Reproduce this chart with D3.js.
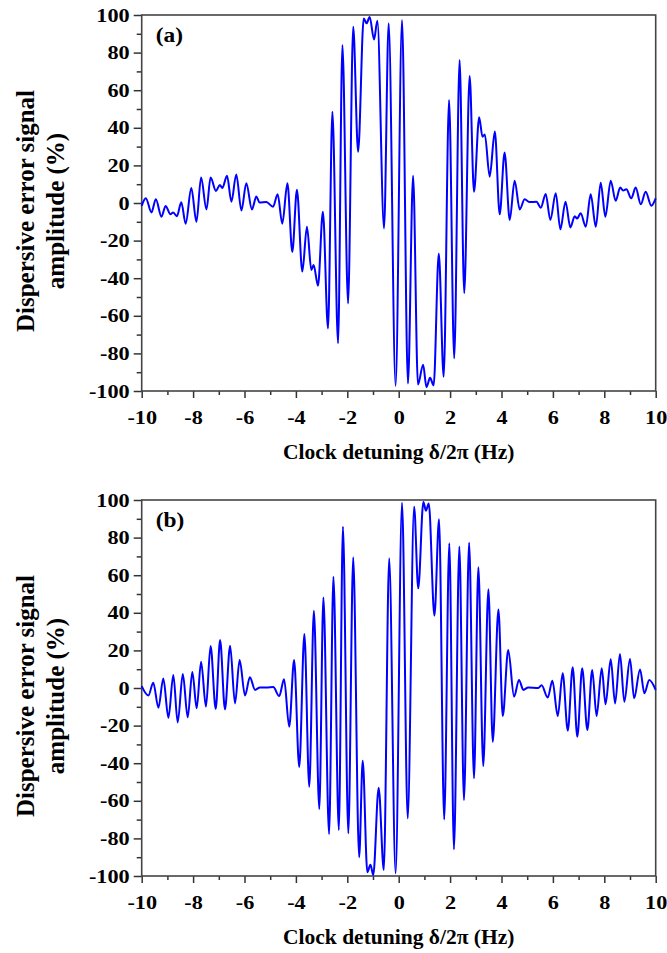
<!DOCTYPE html>
<html>
<head>
<meta charset="utf-8">
<script src="https://cdnjs.cloudflare.com/ajax/libs/d3/7.8.5/d3.min.js"></script>
<style>
  body { margin: 0; background: #fff; }
  text { font-family: "Liberation Serif", "Times New Roman", serif; font-weight: bold; fill: #000; }
</style>
</head>
<body>
<div id="svgcontainer"></div>
<script>
var detuningA = [-10, -9.84, -9.62, -9.45, -9.23, -9.07, -8.88, -8.78, -8.63, -8.46,
  -8.29, -8.07, -7.87, -7.69, -7.48, -7.32, -7.11, -6.96, -6.86, -6.68,
  -6.51, -6.32, -6.12, -5.93, -5.71, -5.54, -5.41, -5.15, -4.89, -4.71,
  -4.53, -4.33, -4.14, -3.96, -3.75, -3.57, -3.40, -3.31, -3.14, -2.95,
  -2.75, -2.58, -2.36, -2.19, -1.97, -1.77, -1.58, -1.36, -1.25, -1.13,
  -0.96, -0.83, -0.57, -0.39, -0.12, 0.13, 0.36, 0.56, 0.75, 0.95,
  1.08, 1.22, 1.36, 1.56, 1.75, 1.96, 2.16, 2.37, 2.55, 2.76,
  2.93, 3.13, 3.26, 3.35, 3.54, 3.74, 3.93, 4.12, 4.32, 4.51,
  4.71, 4.90, 5.10, 5.36, 5.53, 5.72, 5.90, 6.11, 6.29, 6.49,
  6.68, 6.85, 6.94, 7.08, 7.28, 7.47, 7.67, 7.86, 8.04, 8.25,
  8.44, 8.62, 8.73, 8.86, 9.05, 9.22, 9.42, 9.61, 9.83, 10];
var signalA = [-1.5, 2.5, -5, 2, -7.3, -1.6, -6, -5, -7, 0.4,
  -11, 8, -10, 13.5, -3.4, 13.5, 6.4, 9.6, 8, 14.5,
  0.7, 15.2, -4, 10.5, -3.4, 3.4, 0.2, 0.5, -2, 4.6,
  -11, 10.5, -26, 7, -36.5, -12.6, -35.6, -33, -44, -4.6,
  -66.7, 48.6, -74.6, 84, -53.4, 93.8, 27.3, 98.2, 95.6, 99,
  87, 97, -13.5, 95.6, -97.3, 97.3, -96, 14.5, -96.6, -86,
  -98, -93, -97, -26.8, -92.4, 54.8, -82.6, 76, -48, 67.5,
  6, 45.6, 35.3, 36.5, 14, 38, -6, 26.8, -9, 11.9,
  -3.4, 2, 0.5, 0.6, -2.5, 4.8, -9, 5.2, -14, 0.7,
  -13, -7, -8.3, -5.5, -12.6, 4.6, -12.6, 10.8, -7.3, 11.9,
  1.2, 8.2, 6.6, 7.3, 2.5, 8.2, -0.7, 6, -1.4, 2.5];

// panel (b)
var detuningB = [-10, -9.74, -9.55, -9.35, -9.16, -8.96, -8.77, -8.60, -8.40, -8.21,
  -8.03, -7.86, -7.69, -7.50, -7.32, -7.12, -6.95, -6.76, -6.56, -6.37,
  -6.19, -5.98, -5.79, -5.59, -5.40, -5.14, -4.88, -4.65, -4.46, -4.26,
  -4.07, -3.87, -3.67, -3.48, -3.30, -3.09, -2.93, -2.71, -2.54, -2.33,
  -2.17, -1.96, -1.77, -1.54, -1.40, -1.22, -1.10, -0.99, -0.78, -0.58,
  -0.37, -0.12, 0.13, 0.35, 0.60, 0.76, 0.96, 1.06, 1.17, 1.39,
  1.57, 1.77, 1.97, 2.15, 2.36, 2.54, 2.74, 2.93, 3.10, 3.29,
  3.49, 3.66, 3.88, 4.05, 4.26, 4.49, 4.68, 4.85, 5.04, 5.43,
  5.56, 5.80, 5.98, 6.19, 6.38, 6.58, 6.77, 6.95, 7.14, 7.34,
  7.53, 7.70, 7.90, 8.05, 8.25, 8.42, 8.61, 8.78, 9.00, 9.16,
  9.39, 9.56, 9.75, 10];
var signalB = [1, -4, 2.8, -10.5, 5.1, -15.8, 6.9, -18.3, 7.4, -15.6,
  8.5, -10.8, 14, -9.9, 22.3, -11.2, 25.5, -11.3, 22.5, -8.2,
  14.9, -4, 5.7, -1, 0.3, 0.2, 0.5, -4.3, 4.6, -20.6,
  14.9, -42, 28.7, -52.5, 41.1, -64.4, 48.2, -77.7, 59.2, -75.5,
  85.8, -77.3, 69.5, -90, -38.7, -98, -94, -99.5, -53, -96.8,
  69, -98.6, 98.6, -69.3, 96.4, 53, 99, 94.3, 98.2, 38.5,
  89.7, -69.9, 77, -85.8, 75.2, -59.6, 77.3, -48, 64.2, -41.5,
  52.5, -28.6, 41.8, -14.9, 20.2, -4.6, 4.3, -1, 0.3, 0,
  1.4, -5.1, 3.9, -14.9, 7.8, -22.7, 11, -25.9, 10.5, -22.3,
  9.6, -14.9, 10.5, -8.7, 15.3, -8.2, 18.1, -7.3, 15.4, -5.5,
  9.9, -2.8, 4.3, -1];

var xTicks = [-10, -8, -6, -4, -2, 0, 2, 4, 6, 8, 10];
var xMinor = [-9, -7, -5, -3, -1, 1, 3, 5, 7, 9];
var yTicks = [-100, -80, -60, -40, -20, 0, 20, 40, 60, 80, 100];
var yMinor = [-90, -70, -50, -30, -10, 10, 30, 50, 70, 90];
var panelLabels = ["(a)", "(b)"];
var xTitle = "Clock detuning \u03b4/2\u03c0 (Hz)";
var yTitle = ["Dispersive error signal", "amplitude (%)"];

var ErrorPlot = function () {
  var svg;
  var W = 667, H = 953;
  var left = 141.7, plotW = 514, plotH = 376;
  var tops = [15, 500];
  var stretch = 1.17; // tick lettering in the original is a bit wider than tall

  var widen = function (sel) {
    sel.each(function () {
      var len = this.getComputedTextLength();
      d3.select(this)
        .attr("textLength", len * stretch)
        .attr("lengthAdjust", "spacingAndGlyphs");
    });
  };

  var init = function () {
    svg = d3.select("#svgcontainer").append("svg")
      .attr("width", W)
      .attr("height", H);

    drawPanel(0, detuningA, signalA);
    drawPanel(1, detuningB, signalB);
  };

  var drawPanel = function (i, xs, ys) {
    var top = tops[i];
    var g = svg.append("g").attr("transform", "translate(" + left + "," + top + ")");

    var x = d3.scaleLinear().domain([-10, 10]).range([0, plotW]);
    var y = d3.scaleLinear().domain([-100, 100]).range([plotH, 0]);

    // minor ticks first, labels come from the major axis
    g.append("g").attr("class", "axis")
      .attr("transform", "translate(0," + plotH + ")")
      .call(d3.axisBottom(x).tickValues(xMinor).tickSize(4).tickFormat(""));
    g.append("g").attr("class", "axis")
      .call(d3.axisLeft(y).tickValues(yMinor).tickSize(5).tickFormat(""));

    g.append("g").attr("class", "axis")
      .attr("transform", "translate(0," + plotH + ")")
      .call(d3.axisBottom(x).tickValues(xTicks).tickSize(7).tickPadding(13)
        .tickFormat(function (d) { return String(d); }));
    g.append("g").attr("class", "axis")
      .call(d3.axisLeft(y).tickValues(yTicks).tickSize(8).tickPadding(4)
        .tickFormat(function (d) { return String(d); }));

    g.selectAll(".axis path.domain").remove();
    g.selectAll(".axis line").attr("stroke", "#333").attr("stroke-width", 1.5);
    g.selectAll(".axis text")
      .style("font-family", '"Liberation Serif", "Times New Roman", serif')
      .style("font-weight", "bold")
      .style("font-size", "19px")
      .attr("fill", "#000")
      .call(widen);

    // frame
    g.append("rect")
      .attr("x", 0).attr("y", 0)
      .attr("width", plotW).attr("height", plotH)
      .attr("fill", "none")
      .attr("stroke", "#444")
      .attr("stroke-width", 1.6);

    var pts = xs.map(function (d, k) { return [d, ys[k]]; });
    var line = d3.line()
      .x(function (d) { return x(d[0]); })
      .y(function (d) { return y(d[1]); })
      .curve(d3.curveMonotoneX);

    g.append("path")
      .datum(pts)
      .attr("d", line)
      .attr("fill", "none")
      .attr("stroke", "#0000ff")
      .attr("stroke-width", 2)
      .attr("stroke-linejoin", "round");

    g.append("text")
      .attr("x", 14).attr("y", 27)
      .style("font-size", "20px")
      .text(panelLabels[i])
      .call(widen);

    // axis titles
    svg.append("text")
      .attr("x", left + plotW / 2)
      .attr("y", top + plotH + 68)
      .attr("text-anchor", "middle")
      .style("font-size", "21.5px")
      .text(xTitle);

    yTitle.forEach(function (t, k) {
      svg.append("text")
        .attr("transform", "translate(" + (25 + 30 * k) + "," + (top + 196) + ") rotate(-90)")
        .attr("text-anchor", "middle")
        .attr("dy", "0.35em")
        .style("font-size", "25px")
        .text(t);
    });
  };

  return { init: init };
};

var app = new ErrorPlot();
app.init();
</script>
</body>
</html>
